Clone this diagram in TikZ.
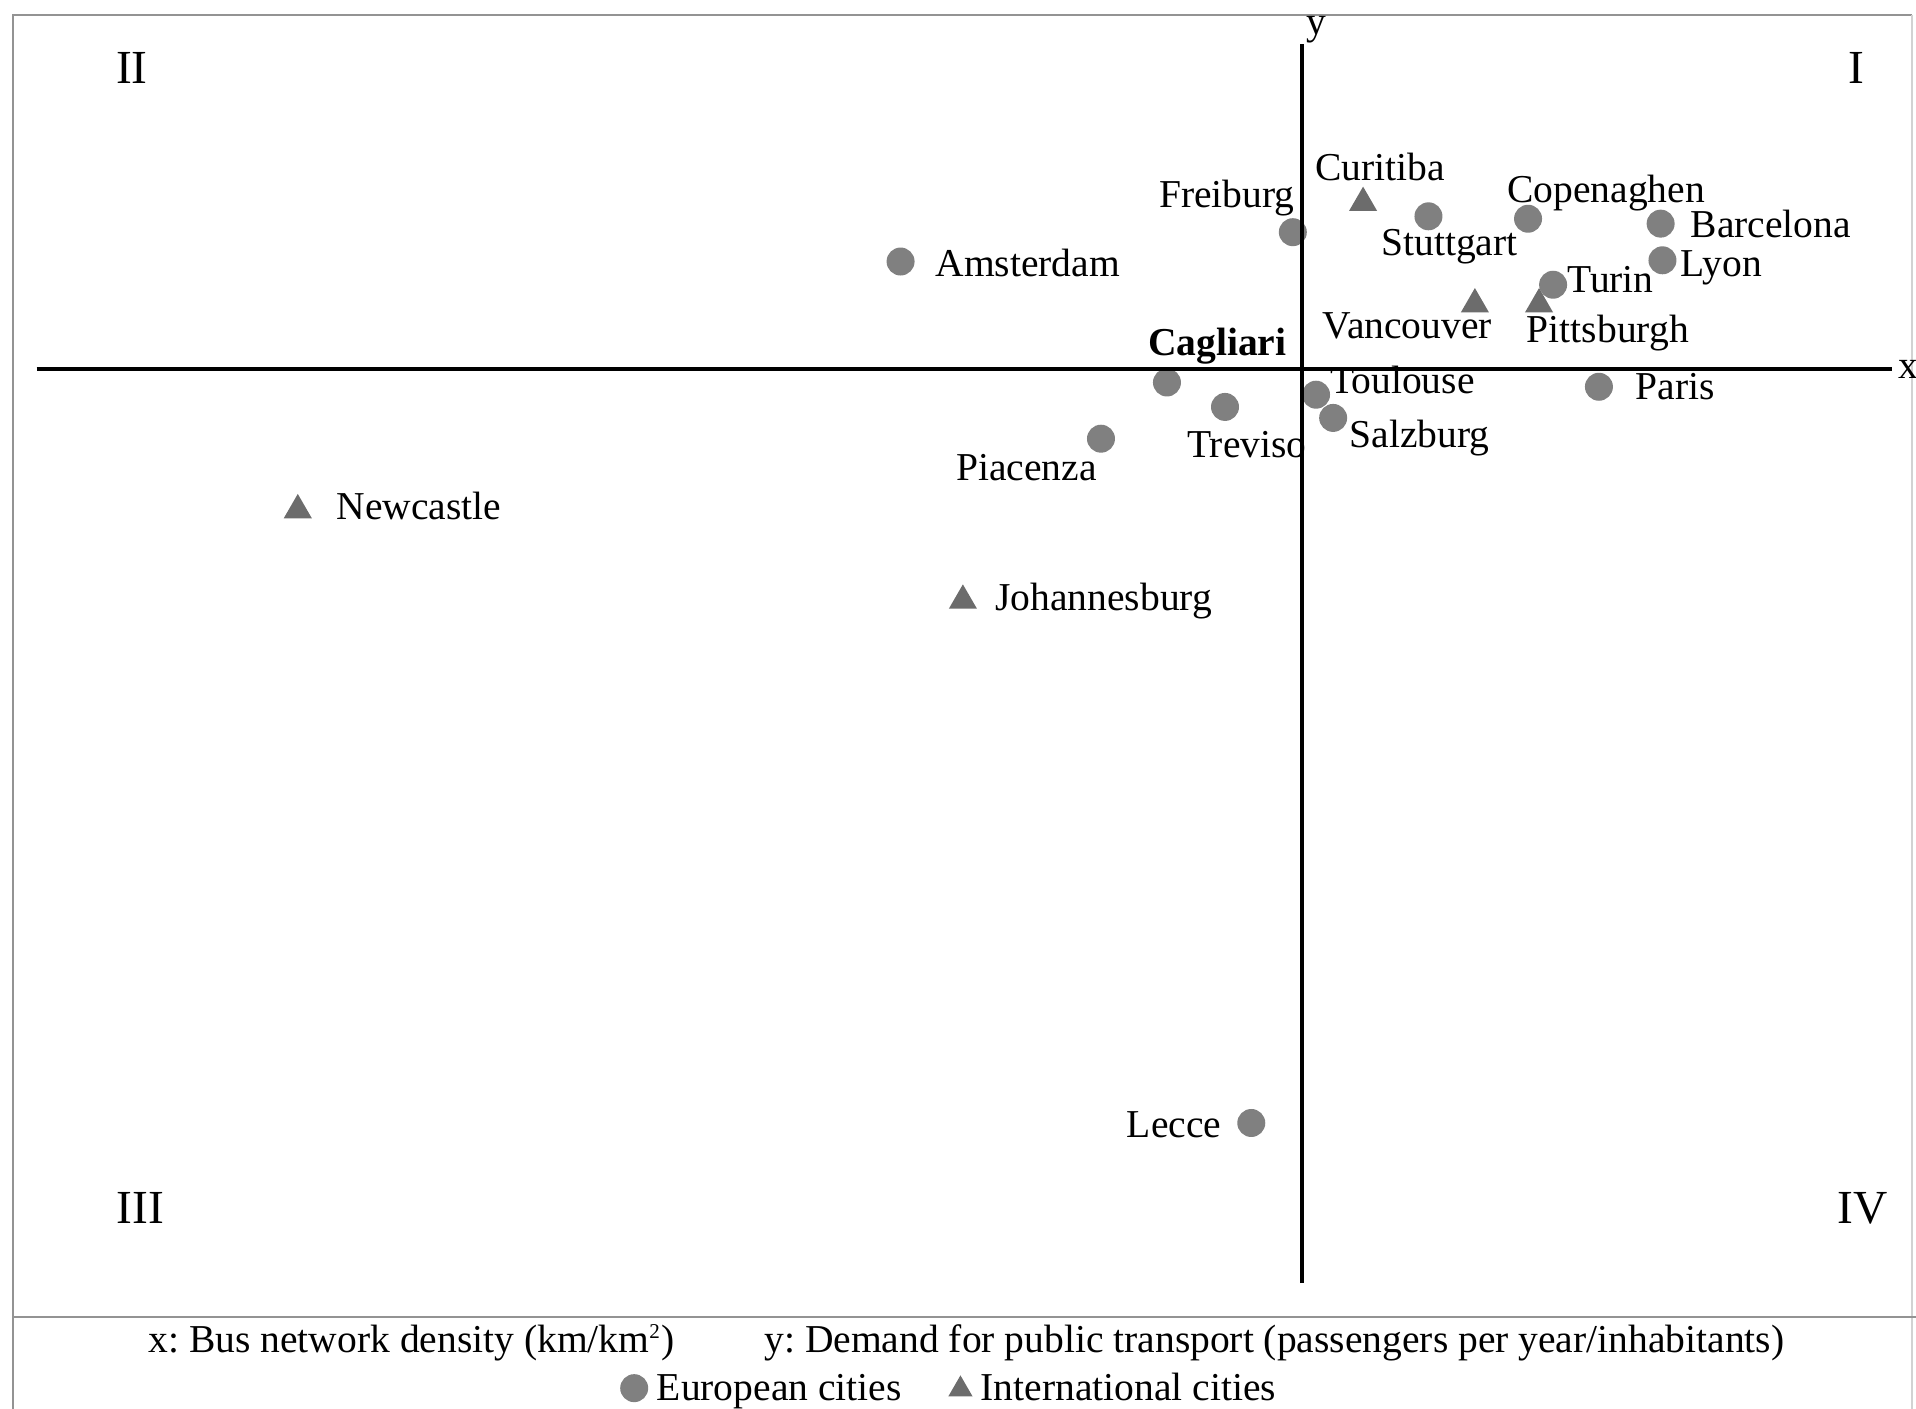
\documentclass[tikz,border=0pt]{standalone}
\usepackage{fontspec}
\setmainfont{Liberation Serif}
\usetikzlibrary{shapes.geometric}
\frenchspacing

\tikzset{
	eu/.style={circle, fill=gray, inner sep=0pt, minimum size=0.28cm},
	intl/.style={regular polygon, regular polygon sides=3, fill=gray!85!black, inner sep=0pt, minimum size=0.325cm},
	city/.style={anchor=base west, inner sep=0pt, font=\fontsize{11.25}{13}\selectfont},
	quad/.style={anchor=base, inner sep=0pt, font=\fontsize{13.5}{15}\selectfont},
	frame/.style={draw=gray!85, line width=0.6pt},
	axis/.style={draw=black, line width=1pt},
}

\begin{document}
\begin{tikzpicture}[x=0.012219cm, y=-0.012219cm]
	\useasboundingbox (0,0) rectangle (1568,1153);

	% the frame around the chart and the legend
		\draw[frame] (10.6,1160) -- (10.6,12.3) -- (1564.5,12.3);
		\draw[frame, draw=gray!35] (1564.5,12.3) -- (1564.5,1160);
		\draw[frame] (10.6,1077.5) -- (1568,1077.5);

	% quadrants
		\node[quad] (q1) at (1519,68) {I};
		\node[quad] (q2) at (108,68) {II};
		\node[quad] (q3) at (115,1001) {III};
		\node[quad] (q4) at (1524,1001) {IV};

	% european cities
		\node[eu] (ams) at (737,214) {};
		\node[city] (amsl) at (765,226) {Amsterdam};
		\node[eu] (fre) at (1058,190) {};
		\node[city] (frel) at (948,170) {Freiburg};
		\node[eu] (stu) at (1169,177) {};
		\node[city] (stul) at (1130,209) {Stuttgart};
		\node[eu] (cop) at (1250.5,179) {};
		\node[city] (copl) at (1233,166) {Copenaghen};
		\node[eu] (bar) at (1359,183) {};
		\node[city] (barl) at (1383,194) {Barcelona};
		\node[eu] (lyo) at (1360.5,213) {};
		\node[city] (lyol) at (1375,226) {Lyon};
		\node[eu] (tur) at (1271,233) {};
		\node[city] (turl) at (1282,239) {Turin};
		\node[eu] (cag) at (955,313) {};
		\node[city, font=\fontsize{11.25}{13}\selectfont\bfseries] (cagl) at (939,291) {Cagliari};
		\node[eu] (tre) at (1002.5,333) {};
		\node[city] (trel) at (971,374) {Treviso};
		\node[eu] (pia) at (901,359) {};
		\node[city] (pial) at (782,393) {Piacenza};
		\node[eu] (tou) at (1077,323) {};
		\node[city] (toul) at (1088,322) {Toulouse};
		\node[eu] (sal) at (1091,342) {};
		\node[city] (sall) at (1104,366) {Salzburg};
		\node[eu] (par) at (1308.5,316.5) {};
		\node[city] (parl) at (1338,327) {Paris};
		\node[eu] (lec) at (1024,919) {};
		\node[city, anchor=base east] (lecl) at (1000,930.5) {Lecce};

	% international cities
		\node[intl] (cur) at (1115.5,166) {};
		\node[city] (curl) at (1076,148) {Curitiba};
		\node[intl] (van) at (1207,249) {};
		\node[city] (vanl) at (1082,277) {Vancouver};
		\node[intl] (pit) at (1259.5,249) {};
		\node[city] (pitl) at (1249,280) {Pittsburgh};
		\node[intl] (new) at (243.7,417.5) {};
		\node[city] (newl) at (275,425) {Newcastle};
		\node[intl] (joh) at (788,491.5) {};
		\node[city] (johl) at (814,500) {Johannesburg};

	% axes
		\coordinate (xa) at (30,302);
		\coordinate (xb) at (1548,302);
		\coordinate (ya) at (1065.6,1050);
		\coordinate (yb) at (1065.6,36);
		\draw[axis] (xa) -- (xb);
		\draw[axis] (ya) -- (yb);
		\node[city] (xlab) at (1553,310) {x};
		\node[city] (ylab) at (1069,28) {y};

	% legend
		\node[city] (legx) at (121,1107) {x: Bus network density (km/km\textsuperscript{\fontsize{6}{7}\selectfont 2})};
		\node[city] (legy) at (625,1107) {y: Demand for public transport (passengers per year/inhabitants)};
		\node[eu] (legeu) at (519,1136) {};
		\node[city] (legeul) at (537,1146) {European cities};
		\node[intl, minimum size=0.28cm] (legint) at (786,1137) {};
		\node[city] (legintl) at (802,1146) {International cities};
\end{tikzpicture}
\end{document}
